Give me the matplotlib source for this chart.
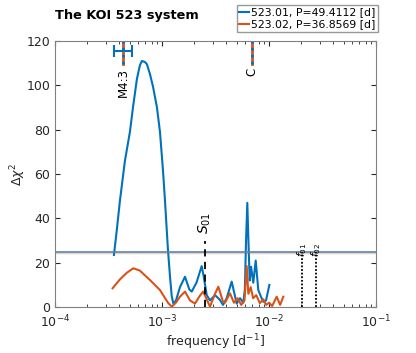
import matplotlib
matplotlib.use("Agg")
import matplotlib.pyplot as plt
import numpy as np

BLUE = "#0072BD"
ORANGE = "#D95319"

# Delta chi^2 vs frequency, 523.01
freq_01 = [3.56e-4, 3.79e-4, 4.05e-4, 4.51e-4, 5.02e-4, 5.36e-4, 5.84e-4, 6.22e-4,
           6.50e-4, 6.93e-4, 7.24e-4, 7.73e-4, 8.24e-4, 8.98e-4, 9.58e-4, 1.021e-3,
           1.067e-3, 1.137e-3, 1.188e-3, 1.233e-3, 1.277e-3, 1.352e-3, 1.473e-3, 1.641e-3,
           1.80e-3, 1.896e-3, 2.10e-3, 2.35e-3, 2.45e-3, 2.62e-3, 2.81e-3, 3.13e-3,
           3.45e-3, 3.72e-3, 4.02e-3, 4.48e-3, 4.99e-3, 5.36e-3, 5.75e-3, 5.95e-3,
           6.10e-3, 6.27e-3, 6.42e-3, 6.60e-3, 6.80e-3, 7.13e-3, 7.51e-3, 7.94e-3,
           8.41e-3, 8.85e-3, 9.38e-3, 1.007e-2]
chi2_01 = [23.5, 35.0, 48.0, 66.0, 79.0, 90.0, 103.0, 109.0,
           111.0, 110.5, 109.5, 105.0, 99.5, 90.0, 79.0, 62.0,
           48.0, 26.0, 14.0, 5.0, 1.6, 3.0, 9.0, 13.7,
           8.0, 7.0, 11.0, 18.5, 14.0, 5.4, 3.0, 5.4,
           3.5, 1.0, 4.0, 11.5, 1.6, 4.0, 2.0, 8.0,
           30.0, 47.0, 30.0, 12.0, 18.2, 11.0, 21.0, 7.7,
           4.7, 2.4, 3.0, 10.0]

# Delta chi^2 vs frequency, 523.02
freq_02 = [3.46e-4, 4.05e-4, 4.70e-4, 5.40e-4, 6.2e-4, 7.73e-4, 9.58e-4, 1.137e-3,
           1.233e-3, 1.35e-3, 1.473e-3, 1.641e-3, 1.827e-3, 2.035e-3, 2.25e-3, 2.43e-3,
           2.81e-3, 3.13e-3, 3.36e-3, 3.72e-3, 3.88e-3, 4.32e-3, 4.70e-3, 5.10e-3,
           5.50e-3, 5.90e-3, 6.19e-3, 6.41e-3, 6.75e-3, 7.1e-3, 7.6e-3, 8.2e-3,
           8.85e-3, 9.4e-3, 1.0e-2, 1.07e-2, 1.18e-2, 1.27e-2, 1.36e-2]
chi2_02 = [8.5, 12.5, 15.5, 17.5, 16.5, 12.2, 7.7, 2.0,
           0.2, 2.0, 4.7, 7.0, 3.0, 1.6, 5.0, 7.0,
           0.2, 6.0, 9.2, 2.4, 2.0, 6.2, 2.0, 4.0,
           1.0, 3.0, 18.5, 6.0, 9.0, 4.0, 5.4, 1.8,
           3.5, 1.0, 2.0, 0.5, 4.7, 1.0, 4.7]

threshold = 25.0

# resonance / reference markers
m43_freq, m43_lo, m43_hi = 4.35e-4, 3.56e-4, 5.26e-4
m43_err_y = 115.5
c_freq = 6.89e-3
marker_end = 109.5
s01_freq, s01_top = 2.52e-3, 30.0
f01_freq, f02_freq, f_top = 2.05e-2, 2.73e-2, 25.0

fig = plt.figure(figsize=(4.16, 3.53), dpi=100)
ax = fig.add_axes([0.132, 0.130, 0.772, 0.754])

l1, = ax.plot(freq_01, chi2_01, color=BLUE, lw=1.5,
              label="523.01, P=49.4112 [d]")
l2, = ax.plot(freq_02, chi2_02, color=ORANGE, lw=1.5,
              label="523.02, P=36.8569 [d]")

ax.axhline(threshold - 0.5, color=ORANGE, lw=1.0, alpha=0.3)
ax.axhline(threshold, color="#4f86b8", lw=1.2)

# vertical markers at top
for f in (m43_freq, c_freq):
    ax.plot([f, f], [marker_end, 120], color=ORANGE, lw=2.0)
    ax.plot([f, f], [marker_end, 120], color=BLUE, lw=2.0, ls=(0, (1, 1.5)))
ax.errorbar([m43_freq], [m43_err_y], xerr=[[m43_freq - m43_lo], [m43_hi - m43_freq]],
            fmt="none", ecolor=BLUE, elinewidth=1.5, capsize=4, capthick=1.5)
ax.text(m43_freq, marker_end - 1.5, "M4:3", rotation=90, ha="center", va="top",
        fontsize=8.5)
ax.text(c_freq, marker_end - 1.5, "C", rotation=90, ha="center", va="top",
        fontsize=8.5)

ax.plot([s01_freq, s01_freq], [0, s01_top], color="black", lw=1.3, ls=(0, (4, 3)))
ax.text(s01_freq, s01_top + 3, "$S_{01}$", rotation=90, ha="center", va="bottom",
        fontsize=10)
for f, lab in ((f01_freq, "$f_{01}$"), (f02_freq, "$f_{02}$")):
    ax.plot([f, f], [0, f_top], color="black", lw=1.3, ls=(0, (1, 1)))
    ax.text(f, f_top - 2.5, lab, rotation=90, ha="center", va="bottom", fontsize=7.5)

ax.set_xscale("log")
ax.set_xlim(1e-4, 1e-1)
ax.set_ylim(0, 120)
ax.set_yticks(np.arange(0, 121, 20))
ax.tick_params(which="both", direction="in", top=True, right=True,
               colors="#262626", labelsize=9)
ax.tick_params(axis="x", pad=5)
ax.tick_params(which="major", length=3.5)
ax.tick_params(which="minor", length=2)
for sp in ax.spines.values():
    sp.set_color("#808080")
    sp.set_linewidth(0.8)

ax.set_xlabel("frequency [d$^{-1}$]", fontsize=9, color="#262626", labelpad=1)
ax.set_ylabel(r"$\Delta\chi^2$", fontsize=9, color="#262626", labelpad=-1.5)
fig.text(0.132, 0.957, "The KOI 523 system", fontsize=9.3, fontweight="bold",
         ha="left", va="center")

fig.legend(handles=[l1, l2], loc="upper right", bbox_to_anchor=(0.908, 0.987),
           fontsize=7.8, frameon=True, fancybox=False, edgecolor="#808080",
           handlelength=0.9, handletextpad=0.15, borderpad=0.25, labelspacing=0.2,
           borderaxespad=0.0)

fig.savefig("out.png", dpi=100)
